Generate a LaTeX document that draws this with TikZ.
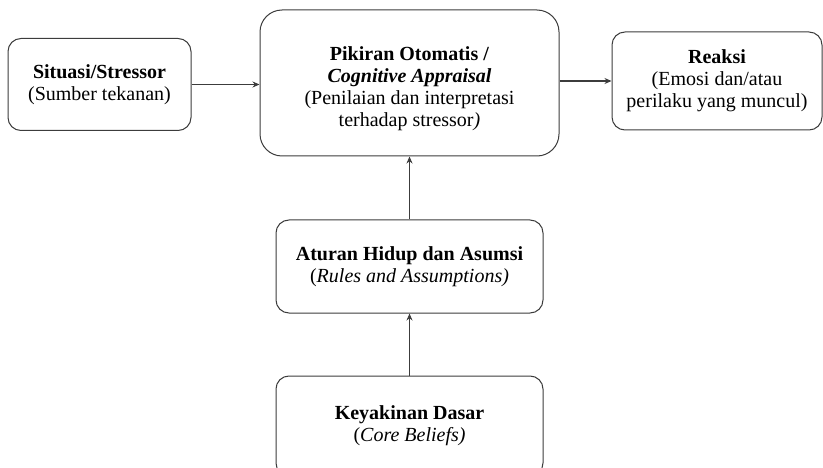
\documentclass[tikz,border=0pt]{standalone}
\usepackage{fontspec}
\setmainfont{Liberation Serif}
\usetikzlibrary{arrows.meta,calc}
\definecolor{linegray}{HTML}{3C3C3C}
\tikzset{box/.style={draw=linegray, line width=1pt, rounded corners=13pt, inner sep=0pt,
    align=center, font=\fontsize{20}{22}\selectfont, text=black},
  link/.style={draw=linegray, line width=1.1pt, -{Stealth[length=7pt,width=6pt]}}}

\begin{document}
\begin{tikzpicture}[x=1pt,y=-1pt]
  \useasboundingbox (0,0) rectangle (823,468);
  % boxes
  \node[box, minimum width=183pt, minimum height=92pt] (sit) at (99.5,84.5)
    {\textbf{Situasi/Stressor}\\(Sumber tekanan)};
  \node[box, rounded corners=22pt, minimum width=299pt, minimum height=146pt] (pik) at (409.5,83)
    {\rule{0pt}{25pt}\textbf{Pikiran Otomatis /}\\\textbf{\textit{Cognitive Appraisal}}\\(Penilaian dan interpretasi\\terhadap stressor\textit{)}};
  \node[box, minimum width=210pt, minimum height=98pt] (rea) at (717,81)
    {\textbf{Reaksi}\\(Emosi dan/atau\\perilaku yang muncul)};
  \node[box, minimum width=267pt, minimum height=93pt] (atu) at (409.5,266.5)
    {\textbf{Aturan Hidup dan Asumsi}\\(\textit{Rules and Assumptions)}};
  \node[box, minimum width=267pt, minimum height=100pt] (key) at (409.5,426)
    {\textbf{Keyakinan Dasar}\\(\textit{Core Beliefs)}};
  % connectors
  \draw[link] (sit.east) -- (sit.east -| pik.west);
  \draw[link] (pik.east |- rea.west) -- (rea.west);
  \draw[link] (atu.north) -- (pik.south);
  \draw[link] (key.north) -- (atu.south);
\end{tikzpicture}
\end{document}
